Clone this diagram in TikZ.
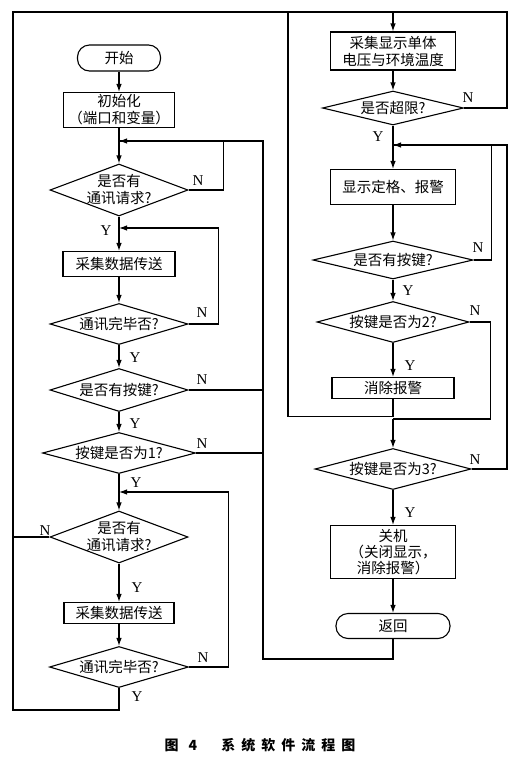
\documentclass[tikz,border=0pt]{standalone}
\usepackage{fontspec}
\setmainfont{Liberation Serif}
\newfontfamily\cjk{Noto Sans CJK SC}
\usetikzlibrary{shapes.geometric, arrows.meta, positioning}

\begin{document}
\begin{tikzpicture}[
        x=1pt, y=-1pt,
        line width=1.1pt,
        proc/.style={rectangle, draw=black, line width=1.1pt, align=center, inner sep=0pt, font=\cjk\fontsize{14.5}{17}\selectfont},
        term/.style={proc, rounded corners=12pt},
        decision/.style={diamond, draw=black, line width=1.1pt, inner sep=0pt},
        dtext/.style={align=center, font=\cjk\fontsize{14.5}{17}\selectfont},
        yn/.style={font=\fontsize{15}{15}\selectfont, inner sep=0pt},
        arr/.style={-{Latex[length=8pt, width=5.5pt]}}
    ]
    \useasboundingbox (0,0) rectangle (519,769);

    % Left column
    \node[term, minimum width=83pt, minimum height=26pt] (start) at (119,58) {开始};
    \node[proc, minimum width=111pt, minimum height=35pt] (init) at (119,110) {初始化\\（端口和变量）};
    \coordinate (m1) at (119,141);
    \node[decision, minimum width=138pt, minimum height=52pt, label={[dtext]center:是否有\\通讯请求?}] (ask1) at (119,190) {};
    \coordinate (m2) at (119,228);
    \node[proc, minimum width=112pt, minimum height=25pt] (send1) at (119,264) {采集数据传送};
    \node[decision, minimum width=138pt, minimum height=41pt, label={[dtext]center:通讯完毕否?}] (done1) at (119,324) {};
    \node[decision, minimum width=138pt, minimum height=43pt, label={[dtext]center:是否有按键?}] (key0) at (119,390) {};
    \node[decision, minimum width=153pt, minimum height=41pt, label={[dtext]center:按键是否为1?}] (key1) at (119,453) {};
    \coordinate (m3) at (119,492);
    \node[decision, minimum width=138pt, minimum height=52pt, label={[dtext]center:是否有\\通讯请求?}] (ask2) at (119,537) {};
    \node[proc, minimum width=110pt, minimum height=21pt] (send2) at (119,613) {采集数据传送};
    \node[decision, minimum width=139pt, minimum height=41pt, label={[dtext]center:通讯完毕否?}] (done2) at (119,667) {};

    % Right column
    \node[proc, minimum width=125pt, minimum height=38pt] (meas) at (393,51) {采集显示单体\\电压与环境温度};
    \node[decision, minimum width=141pt, minimum height=34pt, label={[dtext]center:是否超限?}] (over) at (393,108) {};
    \coordinate (m4) at (393,145);
    \node[proc, minimum width=125pt, minimum height=35pt] (alarm) at (393,187) {显示定格、报警};
    \node[decision, minimum width=160pt, minimum height=38pt, label={[dtext]center:是否有按键?}] (key2) at (393,260) {};
    \node[decision, minimum width=152pt, minimum height=41pt, label={[dtext]center:按键是否为2?}] (key3) at (393,322) {};
    \node[proc, minimum width=122pt, minimum height=21pt] (clear) at (393,388) {消除报警};
    \coordinate (m5) at (393,419);
    \node[decision, minimum width=156pt, minimum height=41pt, label={[dtext]center:按键是否为3?}] (key4) at (393,469) {};
    \node[proc, minimum width=125pt, minimum height=53pt, font=\cjk\fontsize{14.5}{16}\selectfont] (off) at (393,552) {关机\\（关闭显示，\\消除报警）};
    \node[term, minimum width=114pt, minimum height=25pt] (ret) at (393,626) {返回};

    % Frame corners
    \coordinate (tl) at (13,12);
    \coordinate (tr) at (507,12);
    \coordinate (tm) at (288,12);
    \coordinate (bl) at (13,710);
    \coordinate (rb) at (263,659);
    \coordinate (rt) at (263,141);
    \coordinate (rr) at (507,145);

    % Arrows left
    \draw[arr] (start) -- (init);
    \draw[arr] (init) -- (ask1);
    \draw[arr] (ask1) -- (send1);
    \draw[arr] (send1) -- (done1);
    \draw[arr] (done1) -- (key0);
    \draw[arr] (key0) -- (key1);
    \draw[arr] (key1) -- (ask2);
    \draw[arr] (ask2) -- (send2);
    \draw[arr] (send2) -- (done2);
    \draw (ask1.east) -- ++(35,0) |- (m1);
    \draw[arr] (done1.east) -- ++(30,0) |- (m2);
    \draw (key0.east) -- (key0.east -| rt);
    \draw (key1.east) -- (key1.east -| rt);
    \draw[arr] (done2.east) -- ++(39,0) |- (m3);
    \draw (done2.south) |- (bl) -- (tl);
    \draw[arr] (ask2.west) -| (tl) -| (meas.north);

    % Arrows right
    \draw[arr] (meas) -- (over);
    \draw[arr] (over) -- (alarm);
    \draw[arr] (alarm) -- (key2);
    \draw[arr] (key2) -- (key3);
    \draw[arr] (key3) -- (clear);
    \draw[arr] (m5) -- (key4);
    \draw[arr] (key4) -- (off);
    \draw[arr] (off) -- (ret);
    \draw (over.east) -| (tr) -- (tm);
    \draw (clear.south) -- ++(0,17) -| (tm);
    \draw (key2.east) -- ++(18,0) |- (m4);
    \draw[arr] (key4.east) -| (rr) -- (m4);
    \draw (key3.east) -- ++(21,0) |- (m5);
    \draw[arr] (ret.south) |- (rb) -- (rt) -- (m1);

    % Y / N
    \node[yn] (n1) at (198,181) {N};
    \node[yn] (y1) at (106,231) {Y};
    \node[yn] (n2) at (202,313) {N};
    \node[yn] (y2) at (135,358) {Y};
    \node[yn] (n3) at (202,380) {N};
    \node[yn] (y3) at (135,424) {Y};
    \node[yn] (n4) at (202,444) {N};
    \node[yn] (y4) at (136,483) {Y};
    \node[yn] (n5) at (45,531) {N};
    \node[yn] (y5) at (137,588) {Y};
    \node[yn] (n6) at (203,658) {N};
    \node[yn] (y6) at (137,697) {Y};
    \node[yn] (n7) at (468,98) {N};
    \node[yn] (y7) at (378,137) {Y};
    \node[yn] (n8) at (478,248) {N};
    \node[yn] (y8) at (408,291) {Y};
    \node[yn] (n9) at (475,311) {N};
    \node[yn] (y9) at (410,366) {Y};
    \node[yn] (n10) at (475,460) {N};
    \node[yn] (y10) at (410,513) {Y};

    % Caption
    \node[font=\cjk\bfseries\fontsize{14}{14}\selectfont] (cap) at (260,745) {图\hspace{10pt}4\hspace{24pt}系\hspace{6pt}统\hspace{6pt}软\hspace{6pt}件\hspace{6pt}流\hspace{6pt}程\hspace{6pt}图};

    \end{tikzpicture}
\end{document}
